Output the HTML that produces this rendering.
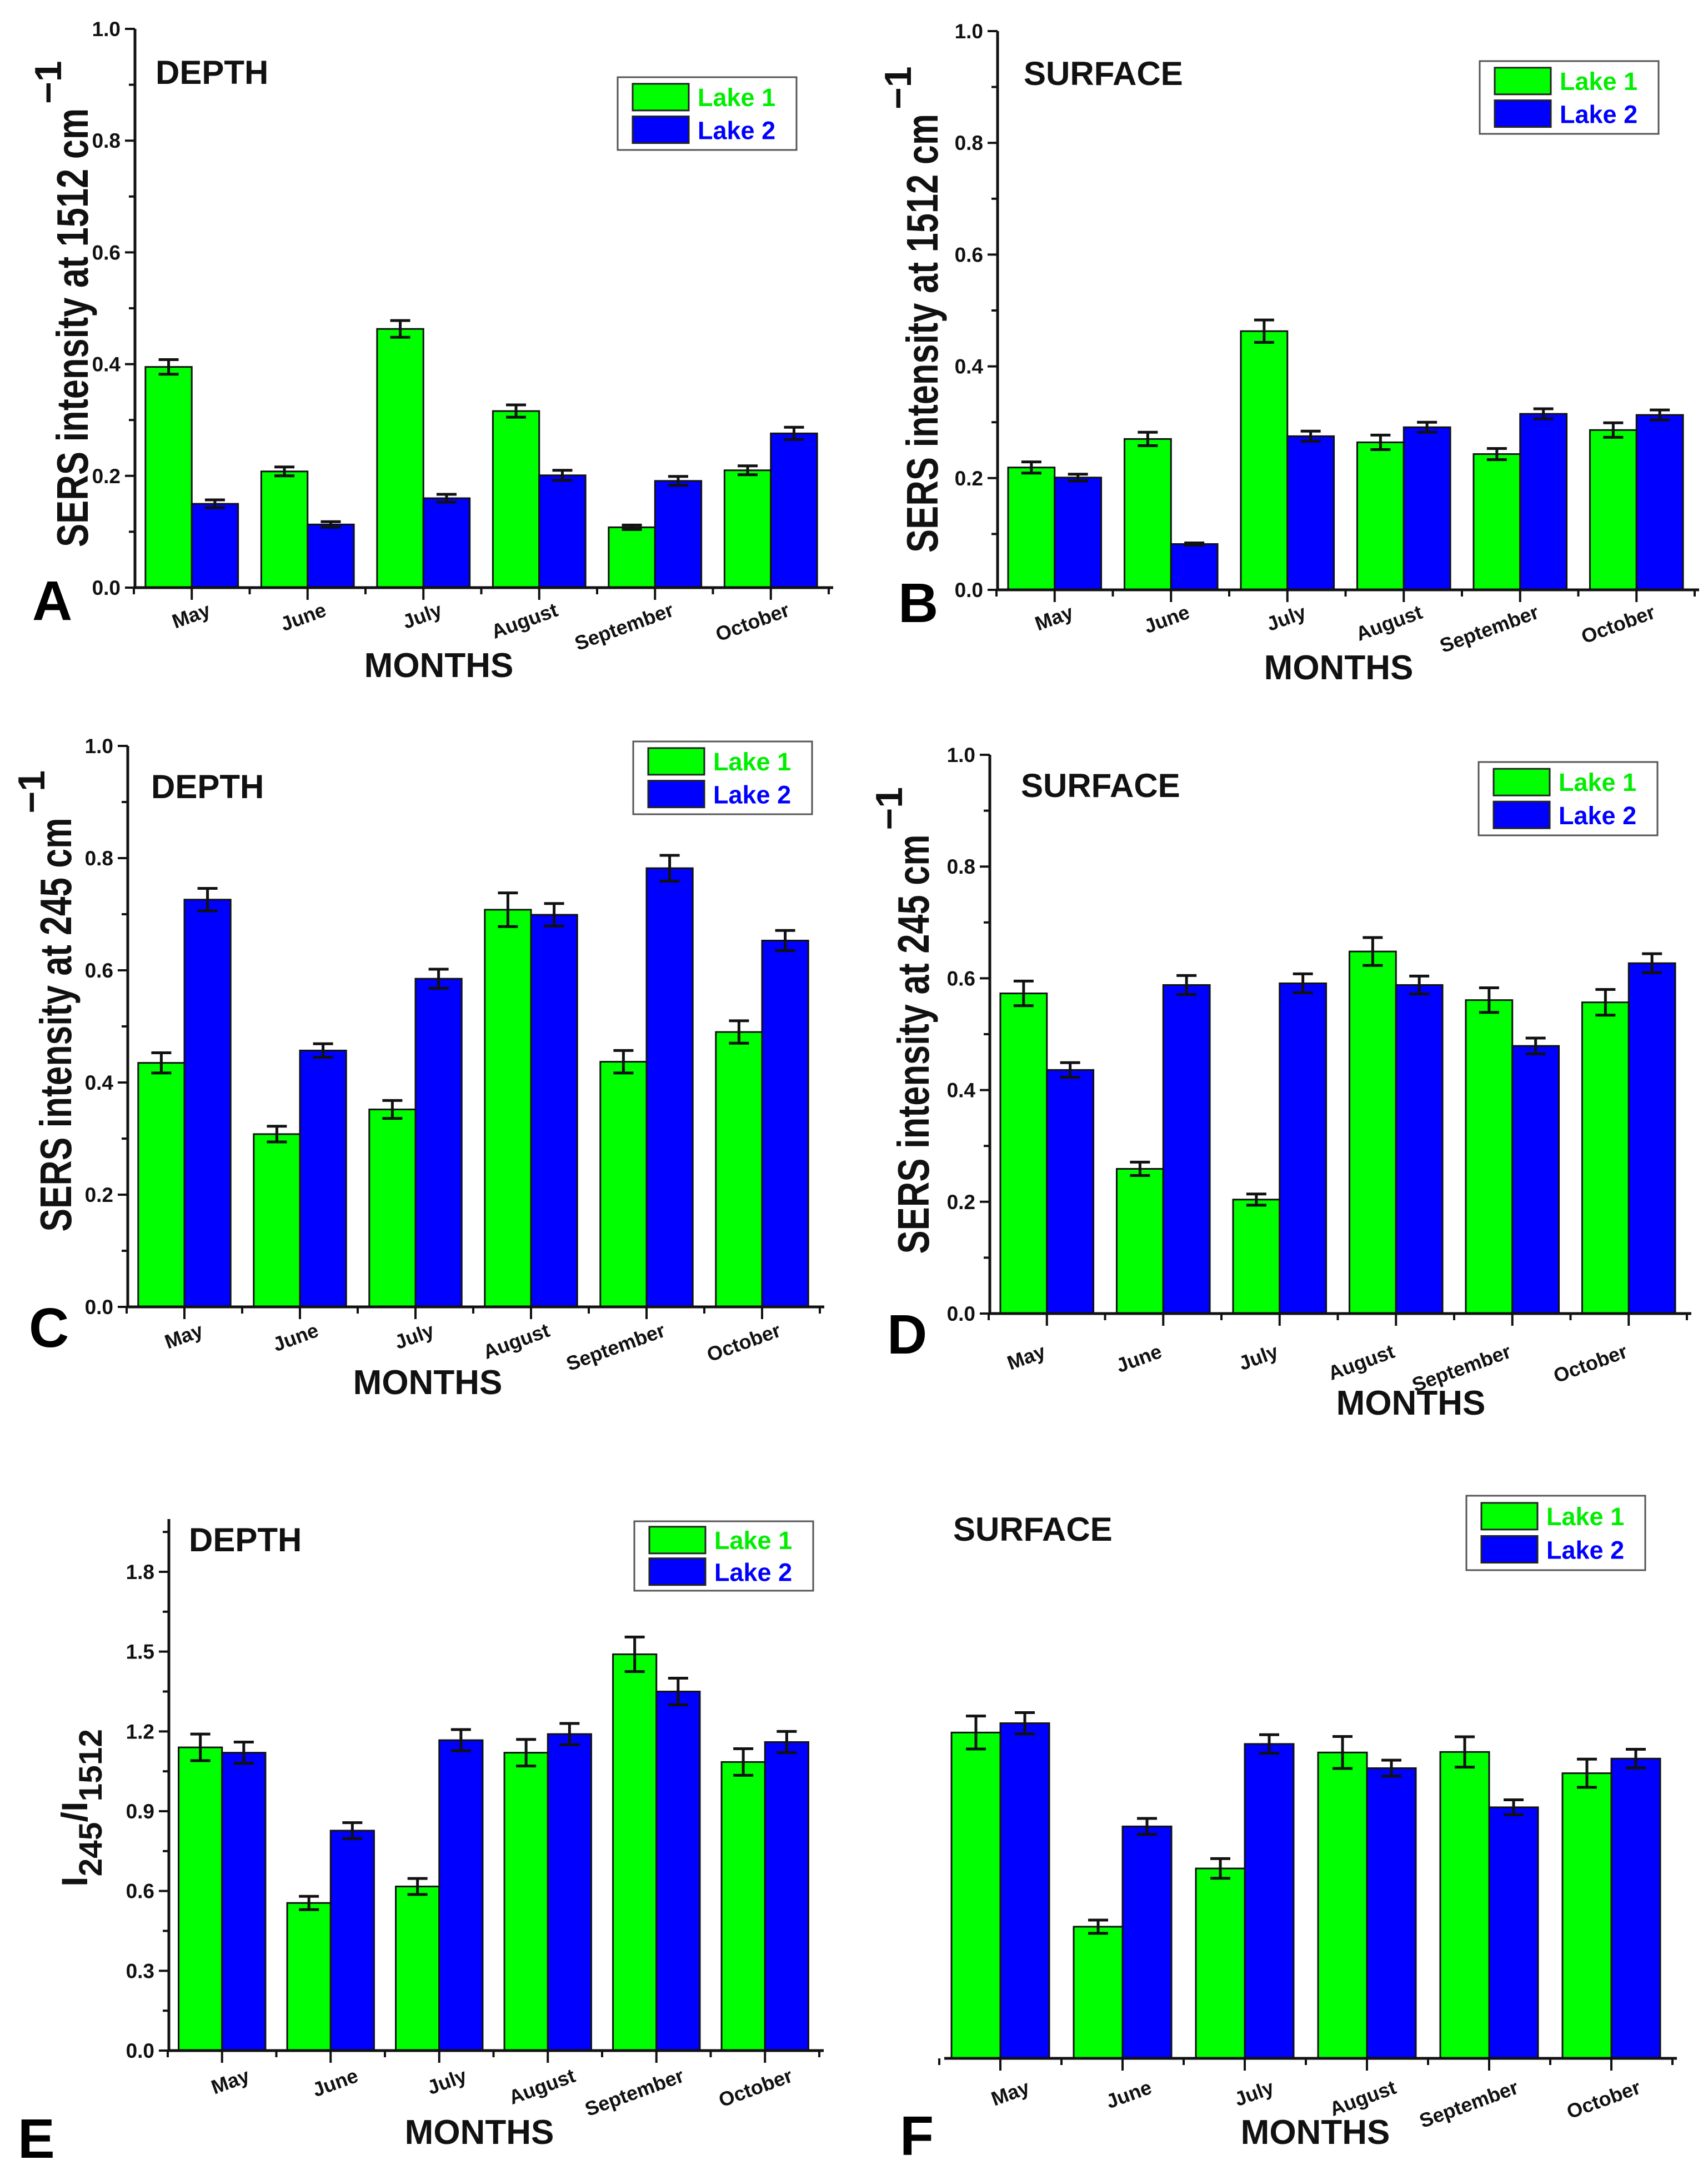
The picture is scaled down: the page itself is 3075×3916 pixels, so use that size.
<!DOCTYPE html>
<html><head><meta charset="utf-8">
<style>
html,body{margin:0;padding:0;background:#fff;}
svg{display:block;font-family:"Liberation Sans",Arial,sans-serif;font-weight:bold;}
</style></head>
<body>
<svg id="fig" width="3075" height="3916" viewBox="0 0 3075 3916" xmlns="http://www.w3.org/2000/svg">
<rect x="0" y="0" width="3075" height="3916" fill="#fff"/>
</svg>
<script>
const months = ["May","June","July","August","September","October"];
// Panel A: depth, 1512 cm-1
const aLake1 = [0.395,0.208,0.463,0.316,0.108,0.210];
const aLake2 = [0.150,0.113,0.160,0.201,0.191,0.276];
const aErr1 = [0.013,0.008,0.015,0.011,0.004,0.008];
const aErr2 = [0.007,0.005,0.007,0.009,0.008,0.011];
// Panel B: surface, 1512 cm-1
const bLake1 = [0.219,0.270,0.463,0.264,0.243,0.286];
const bLake2 = [0.201,0.082,0.275,0.291,0.315,0.313];
const bErr1 = [0.010,0.012,0.020,0.013,0.010,0.013];
const bErr2 = [0.006,0.002,0.009,0.009,0.009,0.009];
// Panel C: depth, 245 cm-1
const cLake1 = [0.435,0.308,0.352,0.708,0.437,0.490];
const cLake2 = [0.726,0.457,0.585,0.699,0.782,0.653];
const cErr1 = [0.018,0.014,0.016,0.030,0.020,0.020];
const cErr2 = [0.020,0.012,0.017,0.020,0.023,0.018];
// Panel D: surface, 245 cm-1
const dLake1 = [0.573,0.259,0.204,0.648,0.561,0.557];
const dLake2 = [0.436,0.588,0.591,0.588,0.479,0.627];
const dErr1 = [0.022,0.012,0.010,0.025,0.022,0.023];
const dErr2 = [0.013,0.017,0.017,0.016,0.014,0.017];
// Panel E: depth ratio
const eLake1 = [1.14,0.555,0.617,1.12,1.49,1.085];
const eLake2 = [1.12,0.827,1.167,1.19,1.35,1.16];
const eErr1 = [0.05,0.025,0.03,0.05,0.065,0.05];
const eErr2 = [0.04,0.03,0.04,0.04,0.05,0.04];
// Panel F: surface ratio
const fLake1 = [1.225,0.495,0.714,1.15,1.152,1.072];
const fLake2 = [1.26,0.872,1.182,1.091,0.944,1.127];
const fErr1 = [0.062,0.025,0.037,0.06,0.057,0.053];
const fErr2 = [0.04,0.03,0.035,0.03,0.028,0.035];
// tick labels
const ticks1 = ["0.0","0.2","0.4","0.6","0.8","1.0"];
const ticksE = ["0.0","0.3","0.6","0.9","1.2","1.5","1.8"];

const NS = "http://www.w3.org/2000/svg";
const svg = document.getElementById("fig");
function mk(tag, attrs, parent, text){
  const e = document.createElementNS(NS, tag);
  for (const k in attrs) e.setAttribute(k, attrs[k]);
  if (text !== undefined) e.textContent = text;
  (parent||svg).appendChild(e);
  return e;
}

function panel(p){
  const g = mk("g", {});
  
  
  const cat = p.cat;
  const xScale = i => p.x0 + cat*(i+0.5);
  const yScale = v => p.y0 - (v/p.vmax)*(p.y0 - p.ytop);
  const bw = cat*0.4;
  // bars
  for (let i=0;i<months.length;i++){
    const cx = xScale(i);
    [[p.l1,p.e1,"#00ff00",-1],[p.l2,p.e2,"#0000ff",0]].forEach(([vals,errs,col,off],s)=>{
      const v = vals[i];
      const r = mk("rect",{x:cx+off*bw, y:yScale(v), width:bw, height:p.y0-yScale(v), fill:col, stroke:"#111", "stroke-width":3}, g);
      
      
      const ex = cx + off*bw + bw/2;
      const eb = mk("path",{d:`M${ex} ${yScale(v+errs[i])}V${yScale(v-errs[i])}M${ex-18} ${yScale(v+errs[i])}H${ex+18}M${ex-18} ${yScale(v-errs[i])}H${ex+18}`, stroke:"#111","stroke-width":5, fill:"none"}, g);
      
      
    });
  }
  // x axis
  const xa = mk("g",{}, g);
  
  
  mk("line",{x1:p.xaxStart, y1:p.y0, x2:p.x0+6*cat+8, y2:p.y0, stroke:"#111","stroke-width":5}, xa);
  for (let i=0;i<=6;i++){
    const bx = p.x0 + cat*i;
    mk("line",{x1:bx,y1:p.y0,x2:bx,y2:p.y0+12,stroke:"#111","stroke-width":4}, xa);
  }
  for (let i=0;i<6;i++){
    const cx = xScale(i);
    mk("line",{x1:cx,y1:p.y0,x2:cx,y2:p.y0+22,stroke:"#111","stroke-width":4}, xa);
    const tx = cx + p.lblDx, ty = p.y0 + p.lblDy;
    const t = mk("text",{x:tx,y:ty,"font-size":36,"text-anchor":"end",transform:`rotate(-20 ${tx} ${ty})`,fill:"#111"}, xa, months[i]);
    
    
  }
  // y axis
  if (p.ticks){
    const ya = mk("g",{}, g);
    
    
    mk("line",{x1:p.x0+2, y1:p.y0+2, x2:p.x0+2, y2:p.axTop, stroke:"#111","stroke-width":5}, ya);
    const n = p.ticks.length;
    for (let k=0;k<n;k++){
      const v = parseFloat(p.ticks[k]);
      const y = yScale(v);
      mk("line",{x1:p.x0+2,y1:y,x2:p.x0-16,y2:y,stroke:"#111","stroke-width":4}, ya);
      const t = mk("text",{x:p.x0-24,y:y+13,"font-size":37,"text-anchor":"end",fill:"#111"}, ya, p.ticks[k]);
      
      
      const mv = v + p.step/2;
      if (yScale(mv) >= p.axTop-2){
        mk("line",{x1:p.x0+2,y1:yScale(mv),x2:p.x0-9,y2:yScale(mv),stroke:"#111","stroke-width":4}, ya);
      }
    }
  }
  // title
  const tt = mk("text",{x:p.titleX,y:p.titleY,"font-size":60,fill:"#111"}, g, p.title);
  
  
  // legend
  const lg = mk("g",{}, g);
  
  
  const L = p.leg;
  mk("rect",{x:L.x,y:L.y,width:322,height:L.h,fill:"#fff",stroke:"#555","stroke-width":3}, lg);
  const gap = (L.h - 2*48)/3.1;
  const s1y = L.y + gap*1.05, s2y = s1y + 48 + gap*0.95;
  const e1 = mk("g",{}, lg);
  
  
  mk("rect",{x:L.x+27,y:s1y,width:101,height:48,fill:"#00ff00",stroke:"#222","stroke-width":3}, e1);
  mk("text",{x:L.x+144,y:s1y+40,"font-size":45,fill:"#00ee00"}, e1, "Lake 1");
  const e2 = mk("g",{}, lg);
  
  
  mk("rect",{x:L.x+27,y:s2y,width:101,height:48,fill:"#0000ff",stroke:"#222","stroke-width":3}, e2);
  mk("text",{x:L.x+144,y:s2y+41,"font-size":45,fill:"#0000ff"}, e2, "Lake 2");
  // x title
  const xt = mk("text",{x:p.mX,y:p.mY,"font-size":62,"text-anchor":"middle",fill:"#111"}, g, "MONTHS");
  
  
  // panel letter
  const pl = mk("text",{x:p.letX,y:p.letY,"font-size":100,fill:"#000"}, g, p.id.toUpperCase());
  
  
  // y title
  if (p.yt){
    const Y = p.yt;
    const yt = mk("g",{transform:`translate(${Y.x} ${Y.cy}) rotate(-90)`}, g);
    
    
    if (Y.kind === "sers"){
      mk("text",{x:-Y.len/2 - 30,y:0,"font-size":80,textLength:Y.len,lengthAdjust:"spacingAndGlyphs",fill:"#111"}, yt, Y.text);
      mk("text",{x:Y.len/2 - 22,y:-48,"font-size":68,fill:"#111"}, yt, "\u22121");
    } else {
      const t = mk("text",{x:-142,y:0,"font-size":66,fill:"#111",textLength:284,lengthAdjust:"spacingAndGlyphs"}, yt);
      mk("tspan",{}, t, "I");
      mk("tspan",{dy:26,"font-size":58}, t, "245");
      mk("tspan",{dy:-26}, t, "/I");
      mk("tspan",{dy:26,"font-size":58}, t, "1512");
    }
  }
}

panel({id:"a", x0:241, cat:208.5, y0:1058, ytop:52, vmax:1.0, axTop:52, xaxStart:241, ticks:ticks1, step:0.2,
  l1:aLake1,l2:aLake2,e1:aErr1,e2:aErr2, lblDx:36, lblDy:50,
  title:"DEPTH", titleX:280, titleY:151, leg:{x:1112,y:139,h:131},
  mX:790, mY:1219, letX:58, letY:1116,
  yt:{kind:"sers", x:158, cy:560, len:790, text:"SERS intensity at 1512 cm"}});
panel({id:"b", x0:1794, cat:209.5, y0:1062, ytop:56, vmax:1.0, axTop:56, xaxStart:1794, ticks:ticks1, step:0.2,
  l1:bLake1,l2:bLake2,e1:bErr1,e2:bErr2, lblDx:36, lblDy:50,
  title:"SURFACE", titleX:1843, titleY:153, leg:{x:2664,y:110,h:131},
  mX:2410, mY:1223, letX:1617, letY:1120,
  yt:{kind:"sers", x:1688, cy:570, len:790, text:"SERS intensity at 1512 cm"}});
panel({id:"c", x0:228, cat:208, y0:2353, ytop:1343, vmax:1.0, axTop:1343, xaxStart:228, ticks:ticks1, step:0.2,
  l1:cLake1,l2:cLake2,e1:cErr1,e2:cErr2, lblDx:36, lblDy:52,
  title:"DEPTH", titleX:272, titleY:1437, leg:{x:1140,y:1335,h:131},
  mX:770, mY:2510, letX:52, letY:2425,
  yt:{kind:"sers", x:128, cy:1815, len:745, text:"SERS intensity at 245 cm"}});
panel({id:"d", x0:1780, cat:209.5, y0:2365, ytop:1359, vmax:1.0, axTop:1359, xaxStart:1780, ticks:ticks1, step:0.2,
  l1:dLake1,l2:dLake2,e1:dErr1,e2:dErr2, lblDx:0, lblDy:78,
  title:"SURFACE", titleX:1838, titleY:1435, leg:{x:2662,y:1372,h:132},
  mX:2540, mY:2547, letX:1597, letY:2437,
  yt:{kind:"sers", x:1672, cy:1850, len:755, text:"SERS intensity at 245 cm"}});
panel({id:"e", x0:302, cat:195.5, y0:3692, ytop:2830, vmax:1.8, axTop:2735, xaxStart:302, ticks:ticksE, step:0.3,
  l1:eLake1,l2:eLake2,e1:eErr1,e2:eErr2, lblDx:52, lblDy:55,
  title:"DEPTH", titleX:340, titleY:2793, leg:{x:1142,y:2739,h:125},
  mX:863, mY:3860, letX:32, letY:3885,
  yt:{kind:"ratio", x:157, cy:3255}});
panel({id:"f", x0:1691, cat:220, y0:3706, ytop:2844, vmax:1.8, axTop:2844, xaxStart:1700, ticks:null, step:0.3,
  l1:fLake1,l2:fLake2,e1:fErr1,e2:fErr2, lblDx:55, lblDy:62,
  title:"SURFACE", titleX:1716, titleY:2774, leg:{x:2640,y:2693,h:134},
  mX:2368, mY:3860, letX:1620, letY:3880, yt:null});
</script>
</body></html>
